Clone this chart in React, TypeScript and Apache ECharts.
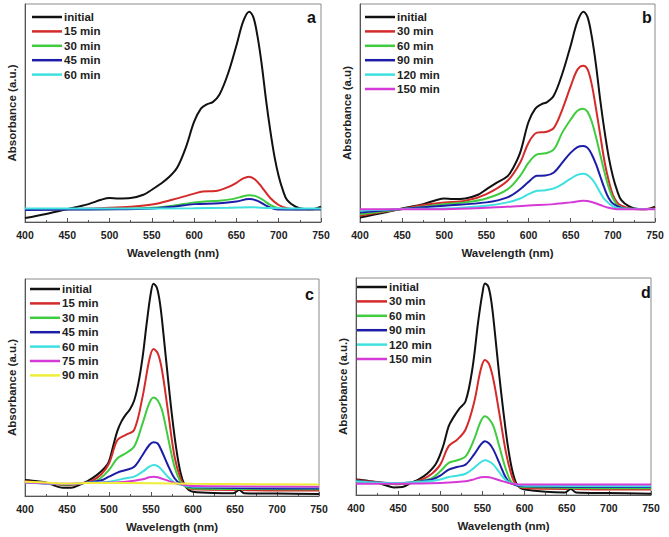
import React, { useEffect, useRef } from "react";
import * as echarts from "echarts";

const FONT = "Liberation Sans, Arial, sans-serif";

const wavelengthTicks = [400, 450, 500, 550, 600, 650, 700, 750];

// Panel a
const aNames = ["initial", "15 min", "30 min", "45 min", "60 min"];
const aInitial = [[400,1.8],[425,3.7],[450,5.9],[475,8.2],[490,10.2],[500,11],[510,10.8],[525,11],[540,12.5],[550,14.8],[560,17.4],[570,20.5],[580,25],[590,34],[600,46],[608,52],[615,54],[622,55],[630,58.5],[640,68],[650,81],[658,92],[665,96.5],[670,94],[675,85],[680,72],[685,56],[690,42],[695,30],[700,21],[705,14.5],[710,10],[720,7],[730,6],[740,5.9],[750,7]];
const a15 = [[400,5.8],[450,5.9],[500,6.5],[525,7],[550,8],[575,10.3],[600,13],[610,14],[625,14.2],[640,16],[650,18],[658,20],[665,20.8],[672,19.5],[680,16],[690,11],[700,7.8],[710,6.3],[720,5.9],[750,5.9]];
const a30 = [[400,5.8],[500,5.9],[550,6.5],[575,7.5],[600,9],[615,9.5],[630,9.8],[645,10.5],[655,11.5],[665,12.3],[672,12],[680,10.5],[690,7.8],[700,6.2],[710,5.9],[750,5.9]];
const a45 = [[400,5.5],[450,5.7],[500,5.8],[550,6.2],[575,7],[600,8.2],[630,8.6],[650,9.4],[665,10.5],[675,9.7],[685,7.5],[695,6],[705,5.7],[750,5.8]];
const a60 = [[400,6.2],[500,6.2],[600,6.3],[640,6.5],[665,6.8],[690,6.4],[720,6.2],[750,6.2]];

// Panel b
const bNames = ["initial", "30 min", "60 min", "90 min", "120 min", "150 min"];
const bInitial = [[400,2.1],[425,4],[450,6.2],[475,8.2],[490,10],[500,10.8],[510,10.5],[525,10.8],[540,12.5],[550,15],[560,17.5],[575,21],[582,25],[590,31.8],[600,46],[608,52],[615,54],[622,55],[630,58],[640,68],[650,81],[658,92],[665,96.5],[670,94],[675,85],[680,72],[685,56],[690,42],[695,30],[700,21],[705,14.5],[710,10],[720,7],[730,6],[740,5.9],[750,7]];
const b30 = [[400,2.9],[425,4.5],[450,6],[475,7.8],[500,9],[525,9.7],[550,12.8],[575,18.9],[590,27.2],[600,36.4],[610,41],[620,41.3],[630,43.2],[640,51.6],[650,62.3],[658,69.9],[665,71.7],[670,70],[675,63],[680,52],[685,40],[690,28],[695,19],[700,12.5],[705,9],[710,7.5],[720,6.2],[730,5.9],[750,6.2]];
const b60 = [[400,3.5],[450,6],[500,8.2],[525,9],[550,10.8],[575,15],[590,21.2],[600,27.2],[610,31],[620,31.5],[630,33.3],[640,41],[650,47],[658,51],[665,51.9],[670,50.5],[675,46],[680,39],[685,31],[690,23],[695,16],[700,11],[705,8],[710,6.7],[720,6],[750,6]];
const b90 = [[400,4.4],[450,6],[500,7.5],[550,9],[575,11.3],[590,15],[600,18.4],[610,21.2],[620,21.3],[630,22.7],[640,27.2],[650,31.8],[658,34.4],[665,34.9],[670,34],[675,31],[680,26.5],[685,21],[690,15.5],[695,11],[700,8.5],[710,6.5],[720,6],[750,6]];
const b120 = [[400,5.2],[450,6],[500,6.2],[550,7.5],[575,9],[590,10.8],[600,12.8],[610,14.3],[620,14.6],[630,15.4],[640,17.4],[650,19.9],[658,21.6],[665,22.1],[670,21.5],[675,19.8],[680,17],[685,13.5],[690,10.5],[700,7.2],[710,6.2],[750,6]];
const b150 = [[400,5.9],[450,5.9],[500,5.9],[550,6.5],[600,7.6],[630,8.2],[650,9],[665,9.7],[675,9.2],[685,7.8],[695,6.5],[705,5.9],[750,5.9]];

// Panel c
const cNames = ["initial", "15 min", "30 min", "45 min", "60 min", "75 min", "90 min"];
const cInitial = [[400,7.4],[415,6.8],[425,6.2],[435,4.8],[445,3.8],[455,3.8],[465,5.2],[475,7],[485,9.5],[495,13],[500,16],[505,23],[510,30],[515,34.5],[520,37.5],[525,40],[530,44],[535,52],[540,64],[545,80],[550,94],[553,97.8],[557,96],[561,88],[565,74],[570,55],[575,37],[580,22],[585,11],[590,5],[595,2.8],[600,2],[625,1.4],[648,1.3],[655,2.8],[661,1.3],[700,1.1],[750,0.9]];
const c15 = [[400,6.8],[425,6],[450,5],[470,6],[480,7.1],[490,9.7],[500,15],[510,25.8],[520,28.2],[530,30.5],[540,45.8],[548,62.8],[553,67.7],[558,65.8],[563,58.2],[570,39.7],[578,18.2],[585,8.2],[590,5],[600,3.1],[650,2.8],[655,3.8],[660,2.8],[750,2.5]];
const c30 = [[400,6.5],[425,6],[450,5.2],[470,6],[480,6.3],[490,8.2],[500,12],[510,17.4],[520,19.7],[530,22.8],[540,33.5],[548,42.8],[553,45.4],[558,44],[563,39.7],[570,27.4],[578,13.5],[585,6.6],[590,4.5],[600,3.5],[750,3.1]];
const c45 = [[400,6.3],[450,5.4],[470,6],[490,7.1],[500,8.9],[510,10.8],[520,12],[530,13.5],[540,18.9],[548,23.5],[553,24.8],[558,24.2],[563,20.5],[570,14.3],[578,8.2],[585,5.8],[600,4],[750,3.5]];
const c60 = [[400,6.2],[450,5.5],[470,6],[500,6.6],[520,8.2],[530,8.9],[540,11.2],[548,13.5],[553,14.3],[558,13.8],[563,12],[570,8.9],[578,6.2],[590,4.8],[600,4.3],[750,4]];
const c75 = [[400,6.2],[450,5.6],[470,6],[500,6.2],[520,6.6],[540,7.7],[548,8.6],[553,8.9],[558,8.6],[570,7.1],[580,5.8],[600,4.6],[750,4.3]];
const c90 = [[400,6.6],[425,6.2],[450,5.8],[475,6],[500,6],[550,5.9],[600,5.6],[650,5.5],[750,5.3]];

// Panel d
const dNames = ["initial", "30 min", "60 min", "90 min", "120 min", "150 min"];
const dInitial = [[400,7.1],[415,6.5],[425,5.8],[435,4.5],[445,3.5],[455,3.7],[465,5.5],[475,7.3],[485,10],[495,14.5],[503,22],[510,31.7],[516,36],[522,39.5],[530,43.2],[538,58],[545,80],[550,93],[553,97.5],[557,96],[561,88],[565,74],[570,55],[575,38],[580,23],[585,12],[590,5.5],[595,3.2],[600,2.5],[625,1.5],[648,1.2],[655,2.8],[661,1.2],[700,0.9],[750,0.6]];
const d30 = [[400,6.8],[425,6],[450,5],[470,6],[480,7.4],[490,9.8],[500,14],[510,22.5],[520,25.5],[530,30.2],[540,42.5],[548,57.8],[553,62.2],[558,60.2],[563,53.2],[570,37.8],[578,19.4],[585,8.6],[590,5],[600,3.2],[650,2.8],[655,3.9],[660,2.8],[750,2.5]];
const d60 = [[400,6.5],[450,5.2],[470,6],[490,7.8],[500,10.9],[510,14.8],[520,16],[530,17.8],[540,25.5],[548,34],[553,36.3],[558,35],[563,31.7],[570,22.5],[578,11.7],[585,5.8],[600,3.7],[750,3.1]];
const d90 = [[400,6.3],[450,5.4],[470,6],[490,7.1],[500,8.9],[510,11.7],[520,12.9],[530,14],[540,18.6],[548,23.2],[553,24.8],[558,23.7],[563,20.9],[570,14.8],[578,7.8],[585,5.2],[600,4],[750,3.7]];
const d120 = [[400,6.2],[450,5.5],[470,6],[490,6.5],[500,7.1],[510,8.3],[520,8.9],[530,9.8],[540,12.5],[548,15.1],[553,16],[558,15.4],[563,14],[570,10.5],[578,6.8],[590,4.8],[600,4.3],[750,4]];
const d150 = [[400,5.2],[450,5.2],[500,5.5],[530,6.3],[540,7.2],[548,8.2],[553,8.3],[558,8.2],[570,6.8],[585,5.2],[600,4.8],[750,4.8]];

const COLORS = ["#111111", "#d42a2a", "#3fcc3f", "#1c1ca8", "#3fe0e0", "#d63ad6", "#eeee3a"];

const panels = [
  { key: "a", names: aNames, data: [aInitial, a15, a30, a45, a60], yTitle: "Absorbance (a.u.)" },
  { key: "b", names: bNames, data: [bInitial, b30, b60, b90, b120, b150], yTitle: "Absorbance (a.u)" },
  { key: "c", names: cNames, data: [cInitial, c15, c30, c45, c60, c75, c90], yTitle: "Absorbance (a.u.)" },
  { key: "d", names: dNames, data: [dInitial, d30, d60, d90, d120, d150], yTitle: "Absorbance (a.u.)" },
];

const layout = [
  { grid: { left: 25, top: 4, width: 296, height: 218 }, legend: { left: 32, top: 10 }, letter: { x: 312, y: 18 } },
  { grid: { left: 360, top: 4, width: 295, height: 218 }, legend: { left: 365, top: 10 }, letter: { x: 647, y: 18 } },
  { grid: { left: 25, top: 279, width: 294, height: 217 }, legend: { left: 30, top: 282 }, letter: { x: 310, y: 295 } },
  { grid: { left: 356, top: 278, width: 295, height: 217 }, legend: { left: 357, top: 280 }, letter: { x: 646, y: 293 } },
];

export default function App() {
  const ref = useRef<HTMLDivElement>(null);
  useEffect(() => {
    if (!ref.current) return;
    const chart = echarts.init(ref.current, null, { renderer: "svg" });
    const grids: any[] = [];
    const xAxes: any[] = [];
    const yAxes: any[] = [];
    const legends: any[] = [];
    const series: any[] = [];
    const graphics: any[] = [];
    panels.forEach((p, i) => {
      const L = layout[i];
      grids.push({ ...L.grid, show: true, borderColor: "#8a8a8a", borderWidth: 1, backgroundColor: "transparent" });
      xAxes.push({
        gridIndex: i,
        type: "value",
        min: wavelengthTicks[0],
        max: wavelengthTicks[wavelengthTicks.length - 1],
        interval: 50,
        axisLine: { show: true, lineStyle: { color: "#555", width: 1 } },
        axisTick: { show: true, inside: true, length: 4, lineStyle: { color: "#555" } },
        minorTick: { show: true, splitNumber: 2, length: 2, lineStyle: { color: "#555" } },
        splitLine: { show: false },
        axisLabel: { margin: 7, fontSize: 10.5, fontWeight: "bold", color: "#222", fontFamily: FONT },
        name: "Wavelength (nm)",
        nameLocation: "middle",
        nameGap: 25,
        nameTextStyle: { fontSize: 11.5, fontWeight: "bold", color: "#222", fontFamily: FONT },
      });
      yAxes.push({
        gridIndex: i,
        type: "value",
        min: 0,
        max: 100,
        axisLine: { show: true, lineStyle: { color: "#555", width: 1 } },
        axisTick: { show: false },
        axisLabel: { show: false },
        splitLine: { show: false },
        name: p.yTitle,
        nameLocation: "middle",
        nameGap: 7,
        nameTextStyle: { fontSize: 11.5, fontWeight: "bold", color: "#222", fontFamily: FONT },
      });
      legends.push({
        orient: "vertical",
        left: L.legend.left,
        top: L.legend.top,
        icon: "rect",
        itemWidth: 30,
        itemHeight: 2.5,
        itemGap: 0.4,
        padding: 0,
        data: p.names.map((n) => p.key + "|" + n),
        formatter: (name: string) => name.split("|")[1],
        textStyle: { fontSize: 11.5, fontWeight: "bold", color: "#222", fontFamily: FONT, lineHeight: 14, padding: [0, 0, 0, -3] },
      });
      p.data.forEach((d, j) => {
        series.push({
          name: p.key + "|" + p.names[j],
          type: "line",
          xAxisIndex: i,
          yAxisIndex: i,
          data: d,
          smooth: 0.35,
          showSymbol: false,
          symbol: "none",
          lineStyle: { width: 2, color: COLORS[j] },
          itemStyle: { color: COLORS[j] },
          z: 2,
        });
      });
      graphics.push({
        type: "text",
        left: L.letter.x - 5,
        top: L.letter.y - 9,
        style: { text: p.key, fontSize: 16, fontWeight: "bold", fill: "#111", fontFamily: FONT },
      });
    });
    chart.setOption({
      animation: false,
      backgroundColor: "#ffffff",
      grid: grids,
      xAxis: xAxes,
      yAxis: yAxes,
      legend: legends,
      series,
      graphic: graphics,
    });
    return () => chart.dispose();
  }, []);
  return <div ref={ref} style={{ position: "absolute", left: 0, top: 0, width: 669, height: 537 }} />;
}
